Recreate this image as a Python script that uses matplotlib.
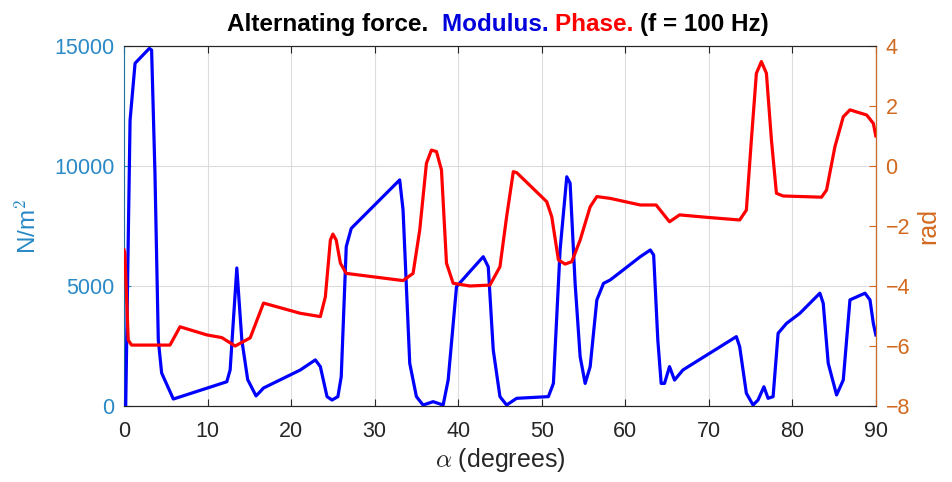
import matplotlib
matplotlib.use('Agg')
import matplotlib.pyplot as plt

# ============================================================
# DATA
# ============================================================
mod_alpha = [0.2, 0.72, 1.32, 3.03, 3.3, 3.7, 4.1, 4.5, 5.9, 12.3, 12.7, 13.5, 14.1,
             14.8, 15.8, 16.3, 16.7, 21.1, 22.9, 23.5, 24.3, 24.9, 25.6, 26.0,
             26.6, 27.2, 33.0, 33.4, 34.2, 35.0, 35.8, 37.0, 38.2, 38.8, 39.8,
             41.4, 43.0, 43.6, 44.2, 45.0, 45.8, 47.0, 50.8, 51.4, 52.2, 53.0,
             53.4, 54.0, 54.6, 55.2, 55.8, 56.6, 57.4, 58.2, 61.8, 63.0, 63.4,
             63.9, 64.3, 64.7, 65.3, 65.9, 66.9, 73.3, 73.7, 74.5, 75.3, 75.9,
             76.6, 77.1, 77.7, 78.3, 79.3, 80.9, 83.3, 83.7, 84.3, 85.3, 86.1,
             86.9, 88.7, 89.3, 89.7, 90.0]
modulus = [0, 11900, 14280, 14900, 14830, 9700, 2750, 1375, 290, 1010, 1500, 5750, 2750,
           1100, 420, 600, 750, 1500, 1920, 1640, 390, 250, 390, 1220,
           6640, 7400, 9420, 8170, 1780, 390, 40, 180, 40, 1080, 4970,
           5600, 6220, 5800, 2330, 390, 40, 320, 390, 940, 6500, 9550,
           9280, 5100, 2060, 940, 1640, 4420, 5110, 5250, 6220, 6500, 6290,
           2750, 940, 940, 1640, 1080, 1500, 2890, 2470, 530, 40, 250,
           800, 320, 390, 3030, 3440, 3860, 4700, 4280, 1780, 460, 1080,
           4420, 4700, 4420, 3440, 2960]

ph_alpha = [0, 0.1, 0.5, 0.9, 5.5, 6.7, 9.9, 11.7, 13.3, 15.1, 16.7, 21.1, 23.5,
            24.1, 24.7, 25.0, 25.4, 25.9, 26.6, 33.4, 34.6, 35.4, 36.2, 36.8,
            37.4, 38.0, 38.6, 39.4, 41.4, 43.8, 45.0, 45.8, 46.6, 47.0, 50.6,
            51.2, 52.0, 52.8, 53.6, 54.6, 55.8, 56.6, 58.2, 61.8, 63.7, 64.5,
            65.3, 66.5, 69.7, 73.7, 74.5, 75.1, 75.7, 76.3, 76.9, 77.5, 78.1,
            78.9, 83.5, 84.1, 85.1, 86.1, 86.9, 88.9, 89.7, 90.0]
phase = [-2.8, -2.9, -5.8, -5.97, -5.97, -5.36, -5.63, -5.72, -6.0, -5.73, -4.57, -4.91, -5.02,
         -4.36, -2.47, -2.27, -2.47, -3.24, -3.58, -3.82, -3.58, -2.13, 0.09, 0.53,
         0.48, -0.13, -3.24, -3.91, -4.0, -3.97, -3.36, -1.69, -0.19, -0.22, -1.19,
         -1.69, -3.13, -3.27, -3.19, -2.47, -1.36, -1.02, -1.08, -1.3, -1.3, -1.58,
         -1.86, -1.63, -1.71, -1.8, -1.47, 0.87, 3.09, 3.48, 3.09, 0.87, -0.91,
         -1.0, -1.04, -0.8, 0.64, 1.64, 1.87, 1.7, 1.42, 1.0]

x_ticks = [0, 10, 20, 30, 40, 50, 60, 70, 80, 90]
left_ticks = [0, 5000, 10000, 15000]
right_ticks = [-8, -6, -4, -2, 0, 2, 4]

LEFT_C = '#2a8ac6'
RIGHT_C = '#d2691e'
DARK = '#262626'

plt.rcParams['font.family'] = 'Liberation Sans'
plt.rcParams['mathtext.fontset'] = 'cm'

fig = plt.figure(figsize=(9.52, 4.82), dpi=100)
ax = fig.add_axes([0.1303, 0.1577, 0.7897, 0.7469])
ax2 = ax.twinx()

ax.plot(mod_alpha, modulus, color='#0000ff', lw=2.3, zorder=3)
ax2.plot(ph_alpha, phase, color='#ff0000', lw=2.3)

ax.set_xlim(0, 90)
ax.set_ylim(0, 15000)
ax2.set_ylim(-8, 4)
ax.set_xticks(x_ticks)
ax.set_yticks(left_ticks)
ax2.set_yticks(right_ticks)
ax.grid(True, color='#dcdcdc', lw=0.8)
ax.set_axisbelow(True)

ax.tick_params(axis='x', direction='in', top=True, labelsize=15.5, colors=DARK,
               length=5, pad=11)
ax.tick_params(axis='y', direction='in', labelsize=15.5, colors=LEFT_C, length=5, pad=7)
ax2.tick_params(axis='y', direction='in', labelsize=15.5, colors=RIGHT_C, length=5, pad=7)

for s in ['top', 'bottom']:
    ax.spines[s].set_color(DARK)
    ax2.spines[s].set_color(DARK)
ax.spines['left'].set_color('#1f6f9f')
ax2.spines['left'].set_visible(False)
ax2.spines['right'].set_color(RIGHT_C)

ax.set_xlabel(r'$\alpha$ (degrees)', fontsize=18, color=DARK)
ax.xaxis.set_label_coords(0.5, -0.112)
ax.set_ylabel('N/m$^2$', fontsize=17.5, color=LEFT_C)
ax.yaxis.set_label_coords(-0.110, 0.5)
ax2.set_ylabel('rad', fontsize=18, color=RIGHT_C)
ax2.yaxis.set_label_coords(1.054, 0.5)

# title in coloured pieces
pieces = [('Alternating force.  ', 'black'), ('Modulus. ', '#0000dd'),
          ('Phase. ', '#ff0000'), ('(f = 100 Hz)', 'black')]
t = fig.text(0.2385, 0.9357, pieces[0][0], color=pieces[0][1], fontsize=17.5,
             fontweight='bold', va='baseline', ha='left')
for txt, col in pieces[1:]:
    t = ax.annotate(txt, xy=(1, 0), xycoords=t, va='bottom', ha='left',
                    color=col, fontsize=17.5, fontweight='bold')

fig.savefig('out.png', dpi=100)
